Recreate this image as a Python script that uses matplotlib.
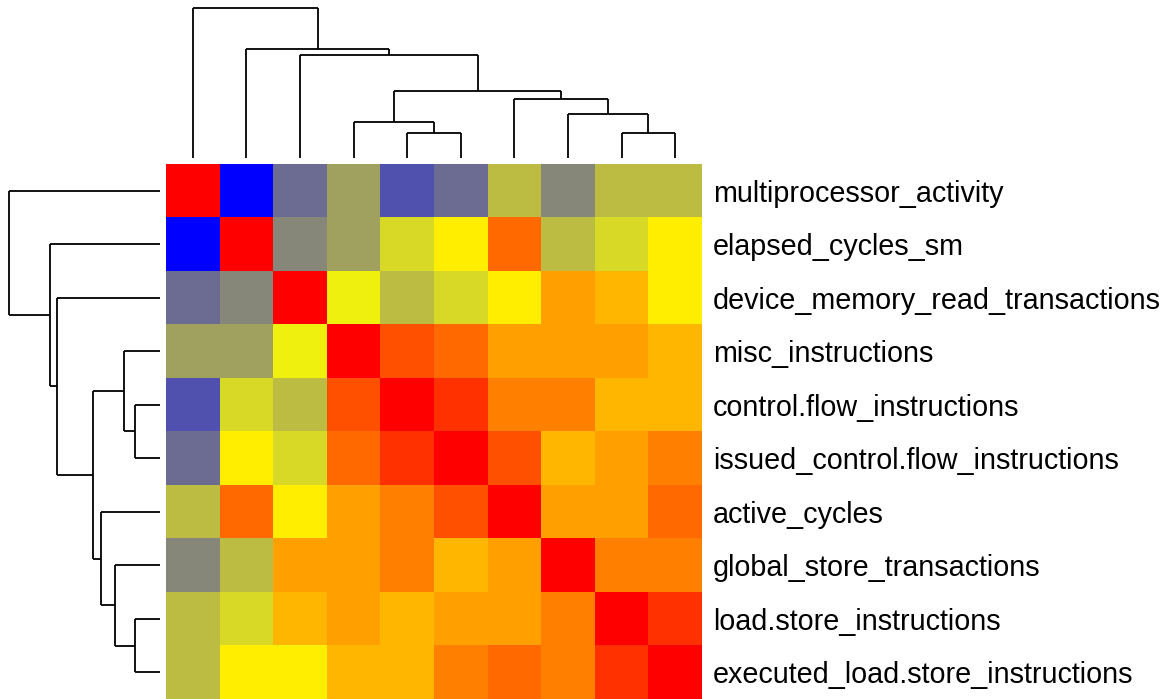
import matplotlib
matplotlib.use("Agg")
import matplotlib.pyplot as plt
from matplotlib.colors import LinearSegmentedColormap
import numpy as np

# ---- data ----
labels = [
    "multiprocessor_activity",
    "elapsed_cycles_sm",
    "device_memory_read_transactions",
    "misc_instructions",
    "control.flow_instructions",
    "issued_control.flow_instructions",
    "active_cycles",
    "global_store_transactions",
    "load.store_instructions",
    "executed_load.store_instructions",
]

# scaled similarity values (0 = blue, 0.5 = yellow, 1 = red), rows/cols in display order
row_multiprocessor = [1.000, 0.000, 0.212, 0.314, 0.157, 0.212, 0.369, 0.265, 0.369, 0.369]
row_elapsed        = [0.000, 1.000, 0.265, 0.314, 0.422, 0.533, 0.792, 0.369, 0.422, 0.533]
row_devmem         = [0.212, 0.265, 1.000, 0.471, 0.369, 0.422, 0.533, 0.686, 0.641, 0.533]
row_misc           = [0.314, 0.314, 0.471, 1.000, 0.843, 0.792, 0.686, 0.686, 0.686, 0.641]
row_control        = [0.157, 0.422, 0.369, 0.843, 1.000, 0.900, 0.749, 0.749, 0.641, 0.641]
row_issued_ctrl    = [0.212, 0.533, 0.422, 0.792, 0.900, 1.000, 0.843, 0.641, 0.686, 0.749]
row_active         = [0.369, 0.792, 0.533, 0.686, 0.749, 0.843, 1.000, 0.686, 0.686, 0.792]
row_global_store   = [0.265, 0.369, 0.686, 0.686, 0.749, 0.641, 0.686, 1.000, 0.749, 0.749]
row_loadstore      = [0.369, 0.422, 0.641, 0.686, 0.641, 0.686, 0.686, 0.749, 1.000, 0.900]
row_exec_loadstore = [0.369, 0.533, 0.533, 0.641, 0.641, 0.749, 0.792, 0.749, 0.900, 1.000]

# hierarchical merges (R-style: negative = leaf position 1-based, positive = earlier merge)
merge_left    = [-5, -9, -4, -8, -7, 3, -3, -2, -1]
merge_right   = [-6, -10, 1, 2, 4, 5, 6, 7, 8]
merge_heights = [0.168, 0.168, 0.241, 0.297, 0.394, 0.447, 0.686, 0.730, 1.000]

matrix = np.array([row_multiprocessor, row_elapsed, row_devmem, row_misc, row_control,
                   row_issued_ctrl, row_active, row_global_store, row_loadstore,
                   row_exec_loadstore])

cmap = LinearSegmentedColormap.from_list("byr", ["#0000FF", "#FFFF00", "#FF0000"], N=256)

W, H = 1169, 699
fig = plt.figure(figsize=(W / 100, H / 100), dpi=100)

hm_left, hm_right, hm_top, hm_bottom = 166, 702, 164, 699
ax = fig.add_axes([hm_left / W, 1 - hm_bottom / H, (hm_right - hm_left) / W, (hm_bottom - hm_top) / H])
ax.imshow(matrix, cmap=cmap, vmin=0, vmax=1, aspect="auto", interpolation="nearest")
ax.set_xticks([])
ax.yaxis.tick_right()
ax.set_yticks(range(len(labels)))
ax.set_yticklabels(labels, fontsize=20.7, family=["Liberation Sans", "DejaVu Sans"], color="black")
ax.tick_params(axis="y", length=0, pad=8)
for s in ax.spines.values():
    s.set_visible(False)


def dendro_segments():
    pos = {}
    hts = {}
    segs = []
    def get(c):
        if c < 0:
            return -c - 1, 0.0
        return pos[c], hts[c]
    for i, (a, b, h) in enumerate(zip(merge_left, merge_right, merge_heights), start=1):
        xa, ha = get(a)
        xb, hb = get(b)
        segs.append(((xa, ha), (xa, h)))
        segs.append(((xb, hb), (xb, h)))
        segs.append(((xa, h), (xb, h)))
        pos[i] = (xa + xb) / 2
        hts[i] = h
    return segs


segs = dendro_segments()
n = len(labels)

# column dendrogram (top)
col_leaf_y, col_root_y = 158, 8.3
axc = fig.add_axes([hm_left / W, 1 - col_leaf_y / H, (hm_right - hm_left) / W, (col_leaf_y - col_root_y) / H])
for (p0, h0), (p1, h1) in segs:
    axc.plot([p0, p1], [h0, h1], color="black", lw=1.3, solid_capstyle="butt", clip_on=False)
axc.set_xlim(-0.5, n - 0.5)
axc.set_ylim(0, max(merge_heights))
axc.axis("off")

# row dendrogram (left)
row_root_x, row_leaf_x = 9.3, 160
axr = fig.add_axes([row_root_x / W, 1 - hm_bottom / H, (row_leaf_x - row_root_x) / W, (hm_bottom - hm_top) / H])
for (p0, h0), (p1, h1) in segs:
    axr.plot([h0, h1], [p0, p1], color="black", lw=1.3, solid_capstyle="butt", clip_on=False)
axr.set_ylim(n - 0.5, -0.5)
axr.set_xlim(max(merge_heights), 0)
axr.axis("off")

fig.savefig("out.png", dpi=100, facecolor="white")
